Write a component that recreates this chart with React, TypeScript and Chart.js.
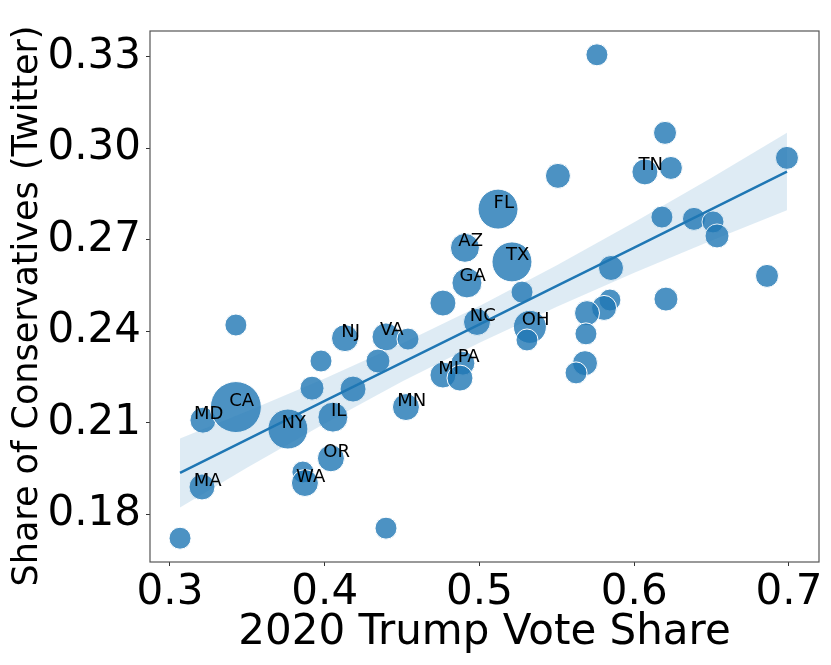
import React, { useEffect, useRef } from 'react';
import { Chart, registerables } from 'chart.js';

Chart.register(...registerables);

// state abbreviations ('' = unlabeled point)
const stateLabels = [
  '', 'MA', 'MD', 'CA', '', 'NY', '', 'WA', 'OR', 'IL',
  '', '', 'NJ', '', 'VA', '', '', 'MN', '', 'MI',
  'PA', '', '', 'GA', 'AZ', 'FL', 'TX', 'NC', '', 'OH',
  '', '', '', 'TN', '', '', '', '', '', '',
  '', '', '', '', '', '', '', '', '', '',
];

const trumpShare = [
  0.3065, 0.3207, 0.3213, 0.3426, 0.3426, 0.3762, 0.3859, 0.3872, 0.4040, 0.4053,
  0.3918, 0.3976, 0.4131, 0.4183, 0.4396, 0.4538, 0.4344, 0.4525, 0.4396, 0.4764,
  0.4893, 0.4874, 0.4764, 0.4919, 0.4906, 0.5120, 0.5210, 0.4984, 0.5275, 0.5326,
  0.5307, 0.5507, 0.5759, 0.6069, 0.6237, 0.6199, 0.6179, 0.5850, 0.6386, 0.6509,
  0.6535, 0.6987, 0.6858, 0.6205, 0.5843, 0.5805, 0.5695, 0.5688, 0.5682, 0.5624,
];

const conservShare = [
  0.1721, 0.1889, 0.2108, 0.2151, 0.2420, 0.2079, 0.1938, 0.1902, 0.1983, 0.2118,
  0.2213, 0.2302, 0.2377, 0.2210, 0.2381, 0.2374, 0.2302, 0.2151, 0.1754, 0.2256,
  0.2295, 0.2246, 0.2492, 0.2558, 0.2673, 0.2800, 0.2627, 0.2430, 0.2528, 0.2414,
  0.2371, 0.2909, 0.3306, 0.2922, 0.2935, 0.3050, 0.2774, 0.2607, 0.2768, 0.2758,
  0.2712, 0.2968, 0.2581, 0.2505, 0.2502, 0.2476, 0.2459, 0.2391, 0.2295, 0.2263,
];

// marker size (radius)
const markerSize = [
  11, 13, 13, 25.5, 11, 20, 11, 13.5, 13.5, 15,
  12, 11, 13.5, 13, 14, 11, 12, 13.5, 11, 13,
  12, 13, 13, 15, 14.5, 20, 20, 13.5, 11, 16.5,
  11, 12.5, 11, 13, 11.5, 11.5, 11, 12.5, 11.5, 11,
  12, 11.5, 11.5, 12, 11, 12.5, 12.5, 11, 12.5, 11,
];

// regression fit and its confidence band
const fitX = [0.3065, 0.35, 0.40, 0.45, 0.50, 0.55, 0.60, 0.65, 0.6987];
const fitY = [0.1935, 0.2045, 0.2171, 0.2297, 0.2422, 0.2548, 0.2674, 0.2800, 0.2923];
const bandUpper = [0.2048, 0.2137, 0.2245, 0.2359, 0.2482, 0.2616, 0.2757, 0.2903, 0.3050];
const bandLower = [0.1822, 0.1953, 0.2097, 0.2235, 0.2362, 0.2480, 0.2591, 0.2697, 0.2796];

const BLUE = '#1f77b4';
const FONT = '"DejaVu Sans", "Liberation Sans", sans-serif';
const Y_TITLE = 'Share of Conservatives (Twitter)';

const labelPlugin = {
  id: 'stateLabels',
  afterDatasetsDraw(chart: any) {
    const { ctx, scales } = chart;
    const x = scales.x;
    const y = scales.y;
    ctx.save();
    ctx.font = `18px ${FONT}`;
    ctx.fillStyle = '#000';
    ctx.textAlign = 'center';
    ctx.textBaseline = 'middle';
    stateLabels.forEach((s, i) => {
      if (!s) return;
      ctx.fillText(s, x.getPixelForValue(trumpShare[i] + 0.0037), y.getPixelForValue(conservShare[i] + 0.002));
    });
    ctx.restore();
  },
  afterDraw(chart: any) {
    const { ctx, chartArea } = chart;
    ctx.save();
    ctx.strokeStyle = '#555';
    ctx.lineWidth = 1.2;
    ctx.strokeRect(chartArea.left, chartArea.top, chartArea.right - chartArea.left, chartArea.bottom - chartArea.top);
    // y axis title
    ctx.translate(28, 306);
    ctx.rotate(-Math.PI / 2);
    ctx.font = `35px ${FONT}`;
    ctx.fillStyle = '#000';
    ctx.textAlign = 'center';
    ctx.textBaseline = 'middle';
    ctx.fillText(Y_TITLE, 0, 0);
    ctx.restore();
  },
};

const App = () => {
  const chartRef = useRef<HTMLCanvasElement | null>(null);

  useEffect(() => {
    const canvas = chartRef.current;
    if (!canvas) return;
    Chart.defaults.font.family = FONT;

    const points = trumpShare.map((v, i) => ({ x: v, y: conservShare[i] }));
    const upper = fitX.map((v, i) => ({ x: v, y: bandUpper[i] }));
    const lower = fitX.map((v, i) => ({ x: v, y: bandLower[i] }));
    const trend = fitX.map((v, i) => ({ x: v, y: fitY[i] }));

    const chart = new Chart(canvas, {
      type: 'line',
      data: {
        datasets: [
          {
            data: points,
            showLine: false,
            pointRadius: markerSize,
            pointBackgroundColor: 'rgba(31,119,180,0.8)',
            pointBorderColor: '#ffffff',
            pointBorderWidth: 1,
            order: 3,
          },
          {
            data: upper,
            borderWidth: 0,
            pointRadius: 0,
            backgroundColor: 'rgba(31,119,180,0.15)',
            fill: '+1',
            order: 2,
          },
          {
            data: lower,
            borderWidth: 0,
            pointRadius: 0,
            fill: false,
            order: 2,
          },
          {
            data: trend,
            borderColor: BLUE,
            borderWidth: 2.5,
            pointRadius: 0,
            fill: false,
            order: 1,
          },
        ] as any,
      },
      options: {
        animation: false,
        responsive: true,
        maintainAspectRatio: false,
        events: [],
        layout: { padding: { left: 0, top: 31, right: 12, bottom: 0 } },
        plugins: {
          legend: { display: false },
          tooltip: { enabled: false },
        },
        scales: {
          x: {
            type: 'linear',
            min: 0.2871,
            max: 0.7194,
            border: { display: false },
            grid: { drawOnChartArea: false, drawTicks: true, tickLength: 4, color: '#333' },
            ticks: {
              stepSize: 0.1,
              includeBounds: false,
              color: '#000',
              font: { size: 42 },
              padding: 2,
              maxRotation: 0,
              callback: (v: any) => Number(v).toFixed(1),
            },
            title: {
              display: true,
              text: '2020 Trump Vote Share',
              color: '#000',
              font: { size: 42 },
              padding: { top: 0, bottom: 7 },
            },
            afterFit: (s: any) => {
              s.height = 103;
              s.paddingLeft = 0;
              s.paddingRight = 0;
            },
          },
          y: {
            type: 'linear',
            min: 0.1643,
            max: 0.3384,
            border: { display: false },
            grid: { drawOnChartArea: false, drawTicks: true, tickLength: 4, color: '#333' },
            ticks: {
              stepSize: 0.03,
              includeBounds: false,
              color: '#000',
              font: { size: 42 },
              padding: 5,
              callback: (v: any) => Number(v).toFixed(2),
            },
            afterFit: (s: any) => {
              s.width = 150;
              s.paddingTop = 0;
              s.paddingBottom = 0;
            },
          },
        },
      },
      plugins: [labelPlugin],
    });

    return () => {
      chart.destroy();
    };
  }, []);

  return (
    <div style={{ position: 'absolute', left: 0, top: 0, width: 831, height: 665 }}>
      <canvas ref={chartRef} />
    </div>
  );
};

export default App;
